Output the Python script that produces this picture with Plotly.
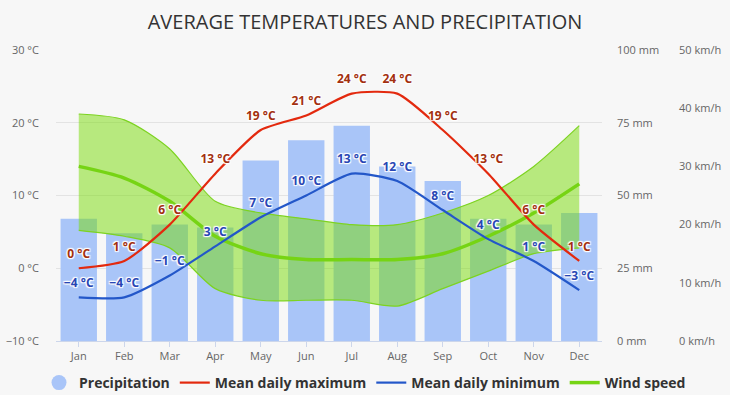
import plotly.graph_objects as go

months = ["Jan", "Feb", "Mar", "Apr", "May", "Jun", "Jul", "Aug", "Sep", "Oct", "Nov", "Dec"]
precip_mm = [42, 37, 40, 39, 62, 69, 74, 60, 55, 42, 40, 44]
temp_max = [0, 1, 6, 13, 19, 21, 24, 24, 19, 13, 6, 1]
temp_min = [-4, -4, -1, 3, 7, 10, 13, 12, 8, 4, 1, -3]
wind_mean = [30, 28, 24, 18, 15, 14, 14, 14, 15, 18, 22, 27]
wind_high = [39, 38, 33, 24, 22, 21, 20, 20, 22, 25, 30, 37]
wind_low = [19, 18, 16, 9, 7, 7, 7, 6, 9, 12, 15, 16]


def fmt(v):
    return ("\u2212" if v < 0 else "") + f"{abs(v)} °C"


FONT = "Open Sans, DejaVu Sans, sans-serif"
halo = "1px 1px 1px #fff, -1px -1px 1px #fff, 1px -1px 1px #fff, -1px 1px 1px #fff, 0 0 2px #fff"
SM_T = 0.6
SM_W = 0.75

fig = go.Figure()

# Precipitation bars (main y axis, right side)
fig.add_trace(go.Bar(x=months, y=precip_mm, name="Precipitation", marker=dict(color="#a9c5f8", line=dict(width=0)),
                     yaxis="y", showlegend=False))
fig.add_trace(go.Scatter(x=[None], y=[None], mode="markers", name="Precipitation",
                         marker=dict(symbol="circle", size=15, color="#a9c5f8"), yaxis="y", legendrank=1))

# Wind band
fig.add_trace(go.Scatter(x=months, y=wind_low, mode="lines",
                         line=dict(color="#7dd321", width=1.2, shape="spline", smoothing=SM_W),
                         yaxis="y2", showlegend=False, hoverinfo="skip"))
fig.add_trace(go.Scatter(x=months, y=wind_high, mode="lines",
                         line=dict(color="#7dd321", width=1.2, shape="spline", smoothing=SM_W),
                         fill="tonexty", fillcolor="rgba(120,220,5,0.5)", yaxis="y2", showlegend=False,
                         hoverinfo="skip"))
fig.add_trace(go.Scatter(x=months, y=wind_mean, mode="lines", name="Wind speed",
                         line=dict(color="#76d414", width=3.5, shape="spline", smoothing=SM_W), yaxis="y2",
                         legendrank=4))

# Temperatures
fig.add_trace(go.Scatter(x=months, y=temp_max, mode="lines+markers+text", name="Mean daily maximum",
                         line=dict(color="#e3290e", width=2.2, shape="spline", smoothing=SM_T),
                         marker=dict(size=10, color="rgba(0,0,0,0)"),
                         text=[fmt(v) for v in temp_max], textposition="top center",
                         textfont=dict(family=FONT, size=12, color="#a3300f", weight="bold", shadow=halo),
                         yaxis="y3", legendrank=2, cliponaxis=False))
fig.add_trace(go.Scatter(x=months, y=temp_min, mode="lines+markers+text", name="Mean daily minimum",
                         line=dict(color="#2357c9", width=2.2, shape="spline", smoothing=SM_T),
                         marker=dict(size=10, color="rgba(0,0,0,0)"),
                         text=[fmt(v) for v in temp_min], textposition="top center",
                         textfont=dict(family=FONT, size=12, color="#2846b4", weight="bold", shadow=halo),
                         yaxis="y3", legendrank=3, cliponaxis=False))

tickfont = dict(family=FONT, size=11, color="#666666")

W, H = 730, 395
dom = [56 / W, 602 / W]
wind_pos = 678 / W

fig.update_layout(
    width=W, height=H,
    margin=dict(l=0, r=0, t=50, b=54),
    paper_bgcolor="#f7f7f7", plot_bgcolor="#f7f7f7",
    font=dict(family=FONT, color="#333333"),
    title=dict(text="AVERAGE TEMPERATURES AND PRECIPITATION", x=0.5, xanchor="center", y=1 - 22 / 395,
               yanchor="middle", yref="container", font=dict(family=FONT, size=20, color="#333333")),
    bargap=0.2,
    showlegend=True,
    legend=dict(orientation="h", traceorder="normal", xref="container", yref="container", x=0.5,
                xanchor="center", y=1 - 383 / 395, yanchor="middle",
                font=dict(family=FONT, size=14, color="#333333", weight="bold"),
                bgcolor="rgba(0,0,0,0)", itemwidth=30),
    xaxis=dict(domain=dom, range=[-0.5, 11.5], showline=True, linecolor="#ccd6eb", ticks="outside",
               ticklen=5, tickcolor="#ccd6eb", tickfont=tickfont, showgrid=False, fixedrange=True),
    yaxis=dict(range=[0, 100], dtick=25, side="right", ticksuffix=" mm", tickfont=tickfont,
               showgrid=True, gridcolor="#e3e3e3", gridwidth=1, zeroline=False, ticklabelstandoff=14),
    yaxis2=dict(range=[0, 50], dtick=10, overlaying="y", side="right", anchor="free", position=wind_pos,
                ticksuffix=" km/h", tickfont=tickfont, showgrid=False, zeroline=False),
    yaxis3=dict(range=[-10, 30], dtick=10, overlaying="y", side="left", ticksuffix=" °C", tickfont=tickfont,
                showgrid=False, zeroline=False, ticklabelstandoff=16),
)

fig.write_html("out.html", config={"displayModeBar": False},
               post_script="document.body.style.margin='0';document.body.style.background='#f7f7f7';")
